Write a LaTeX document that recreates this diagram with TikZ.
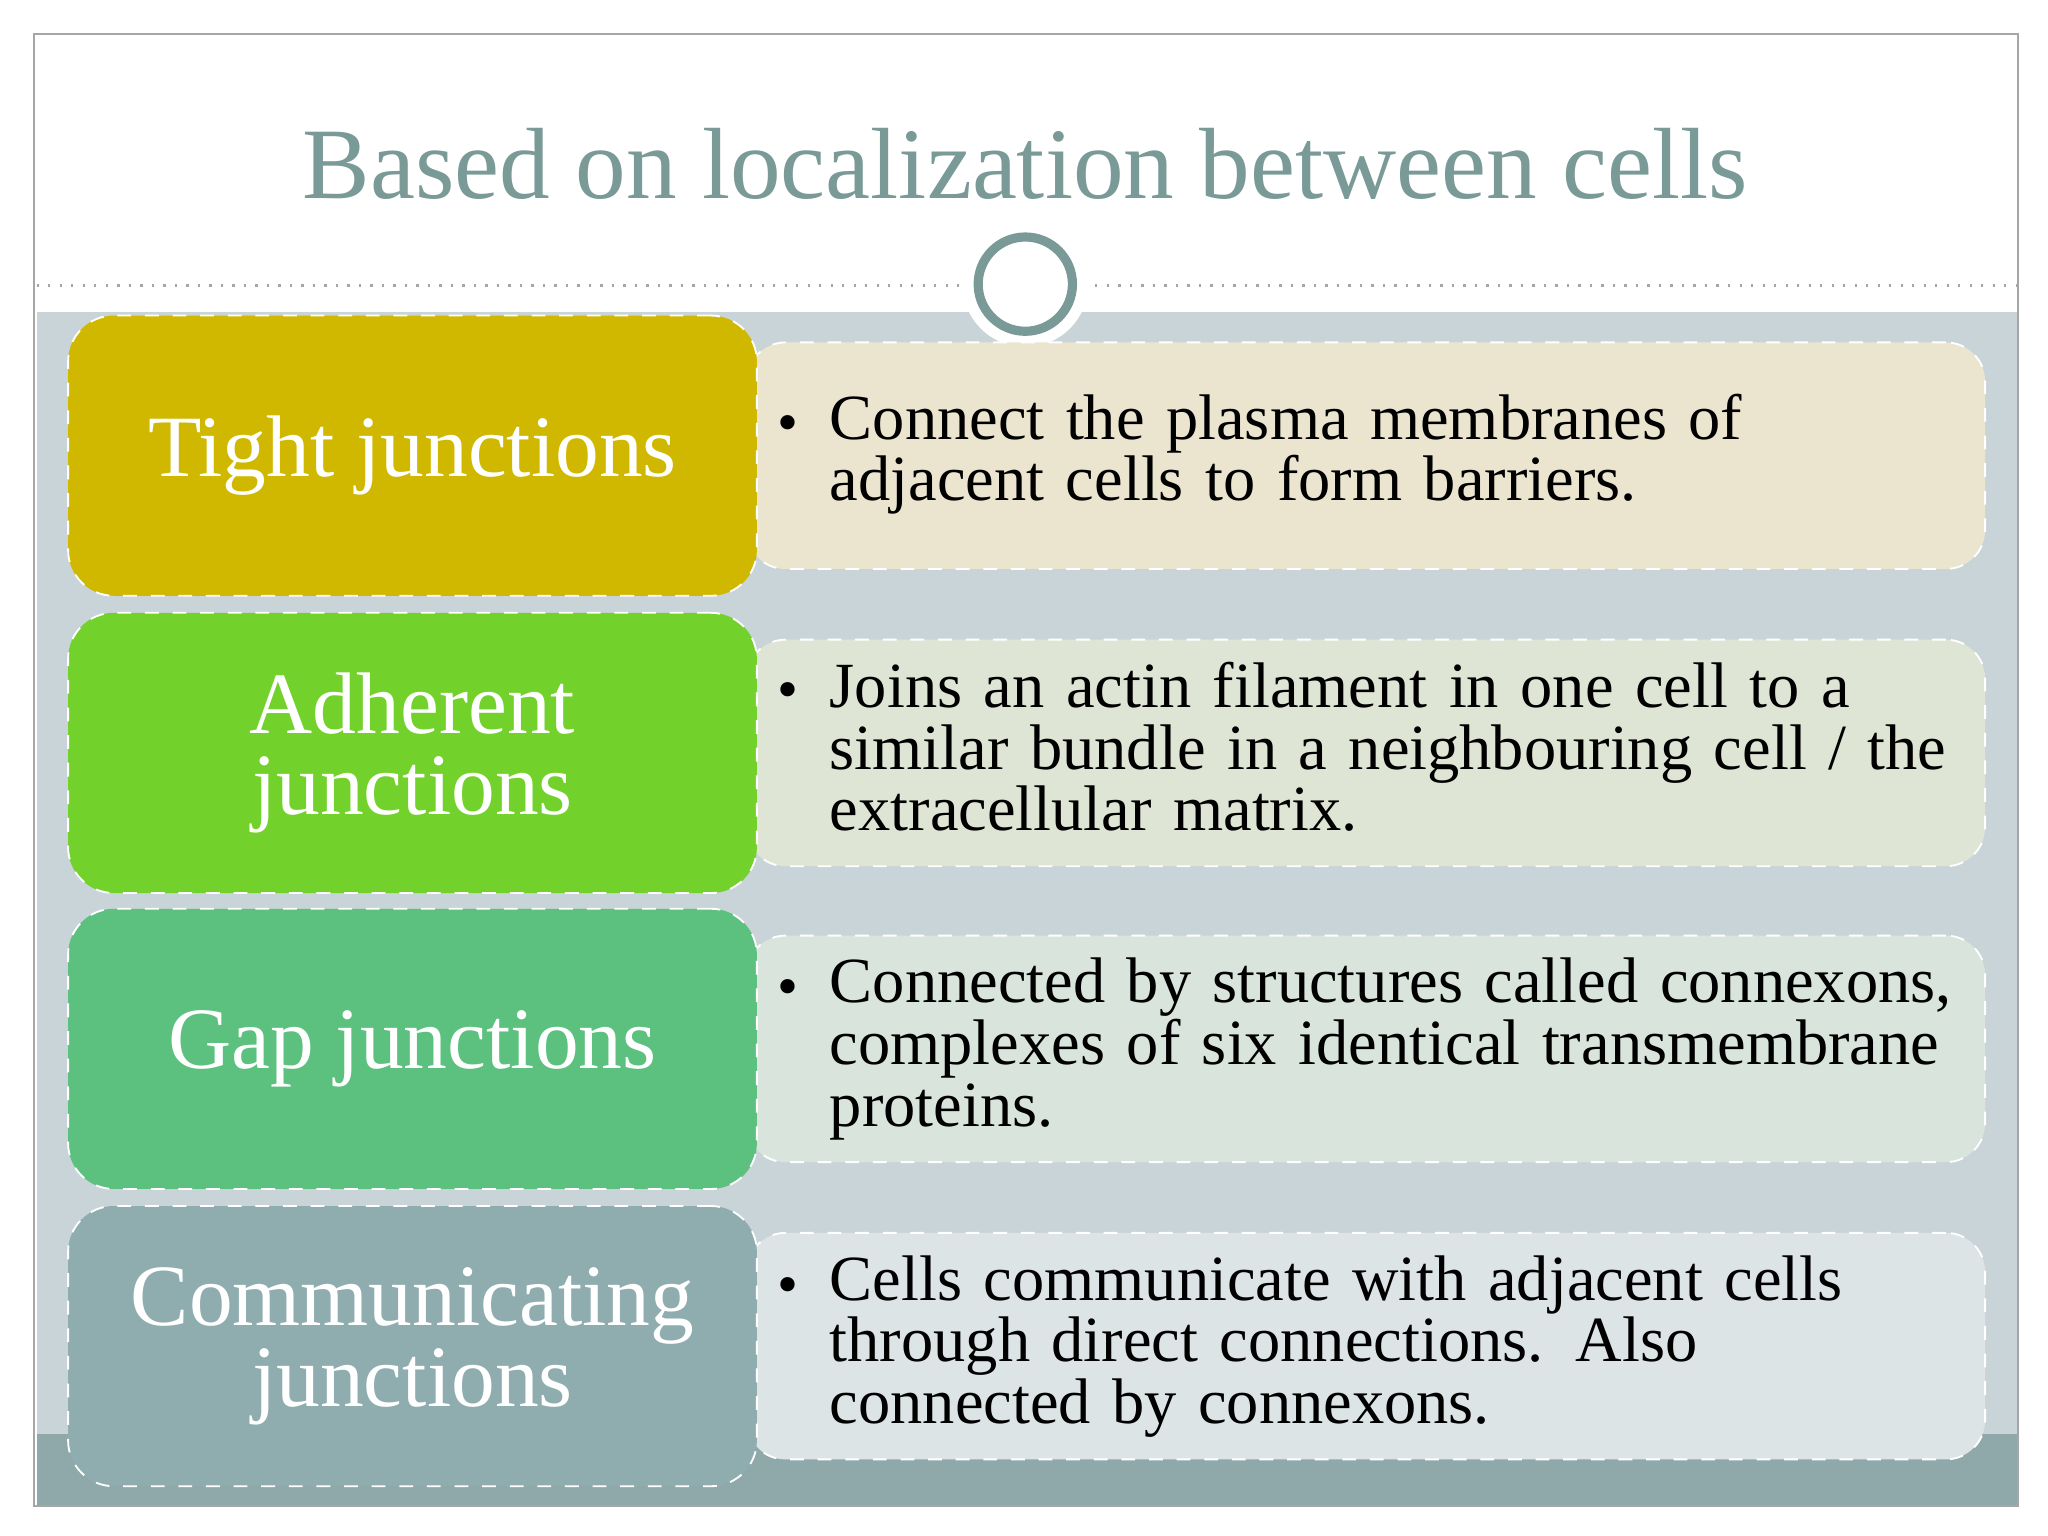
\documentclass[tikz,border=0pt]{standalone}
\usepackage{fontspec}
\setmainfont{Liberation Serif}
\definecolor{ttl}{HTML}{7A9A98}
\definecolor{bg}{HTML}{C9D4D8}
\definecolor{band}{HTML}{8FA9AA}
\definecolor{cA}{HTML}{D0B800}
\definecolor{cB}{HTML}{72D12B}
\definecolor{cC}{HTML}{5CC17E}
\definecolor{cD}{HTML}{8FADAF}
\definecolor{rA}{HTML}{EBE5CF}
\definecolor{rB}{HTML}{DFE5D5}
\definecolor{rC}{HTML}{D8E4DC}
\definecolor{rD}{HTML}{DDE4E6}
\tikzset{
 lbox/.style={draw=white,dashed,line width=0.4pt,rounded corners=0.35cm,minimum width=5.26cm,minimum height=2.14cm,text=white,align=center,font=\fontsize{19}{17.5}\selectfont,inner sep=0pt},
 rbox/.style={draw=white,dashed,line width=0.4pt,rounded corners=0.3cm,minimum width=9.46cm,minimum height=1.73cm,inner sep=0pt},
 rtext/.style={anchor=west,align=left,text width=9.1cm,font=\fontsize{14}{13.4}\selectfont,inner sep=0pt}
}
\begin{document}
\begin{tikzpicture}[x=1cm,y=-1cm]
\useasboundingbox (0,0) rectangle (15.64,11.73);
\fill[white] (0,0) rectangle (15.64,11.73);
\fill[bg] (0.28,2.38) rectangle (15.40,10.95);
\fill[band] (0.28,10.95) rectangle (15.40,11.50);
\draw[gray!70,line width=0.5pt] (0.26,0.26) rectangle (15.41,11.50);
\draw[gray!70,dotted,line width=0.5pt] (0.28,2.18) -- (15.40,2.18);
\node[circle,fill=white,minimum size=0.96cm,inner sep=0pt] (cw) at (7.83,2.17) {};
\node[circle,draw=ttl,line width=0.07cm,fill=white,minimum size=0.72cm,inner sep=0pt] (c) at (7.83,2.17) {};
\node[text=ttl,font=\fontsize{22}{22}\selectfont] (title) at (7.83,1.25) {Based on localization between cells};
\foreach \i/\y/\lc/\rc in {1/3.48/cA/rA,2/5.75/cB/rB,3/8.01/cC/rC,4/10.28/cD/rD}{
 \node[rbox,fill=\rc] (r\i) at (10.43,\y) {};
}
\node[lbox,fill=cA] (l1) at (3.15,3.48) {Tight junctions};
\node[lbox,fill=cB] (l2) at (3.15,5.75) {Adherent\\junctions};
\node[lbox,fill=cC] (l3) at (3.15,8.01) {Gap junctions};
\node[lbox,fill=cD] (l4) at (3.15,10.28) {Communicating\\junctions};
\foreach \i/\y in {1/3.23,2/5.27,3/7.54,4/9.81}{
 \node[font=\fontsize{13}{13}\selectfont,anchor=base] (b\i) at (6.02,\y+0.15) {•};
}
\node[rtext,anchor=north west] (t1) at (6.33,3.0) {Connect the plasma membranes of\\adjacent cells to form barriers.};
\node[rtext,anchor=north west] (t2) at (6.33,5.05) {Joins an actin filament in one cell to a\\similar bundle in a neighbouring cell / the\\extracellular matrix.};
\node[rtext,anchor=north west] (t3) at (6.33,7.31) {Connected by structures called connexons,\\complexes of six identical transmembrane\\proteins.};
\node[rtext,anchor=north west] (t4) at (6.33,9.58) {Cells communicate with adjacent cells\\through direct connections. Also\\connected by connexons.};
\end{tikzpicture}
\end{document}
